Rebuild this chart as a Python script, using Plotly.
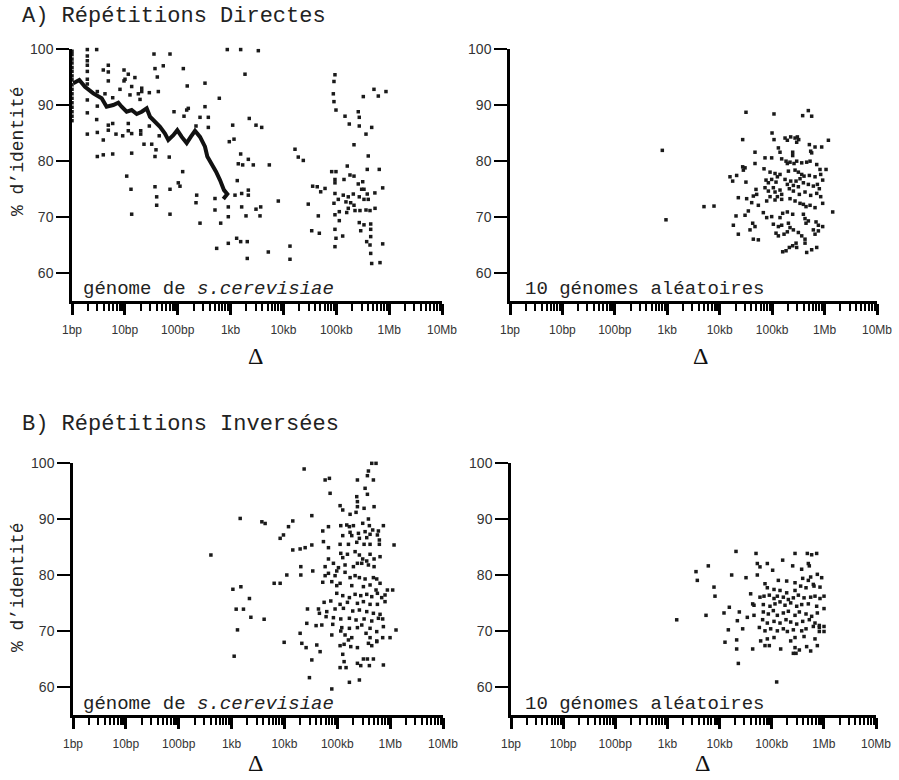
import plotly.graph_objects as go

# ---------------- data (x = log10 of Δ in bp, y = % identity) ----------------
tick_vals = [1, 10, 100, 1e3, 1e4, 1e5, 1e6, 1e7]
tick_text = ["1bp", "10bp", "100bp", "1kb", "10kb", "100kb", "1Mb", "10Mb"]
y_ticks = [60, 70, 80, 90, 100]

# A) direct repeats, S. cerevisiae genome
a_gen_logd = [
    0, 0, 0, 0, 0, 0, 0, 0, 0, 0, 0, 0, 0, 0, 0, 0, 0,
    0.29, 0.467, 0.29, 0.29, 0.29, 0.687, 0.592, 0.687, 0.984, 1.065, 1.003, 0.984, 1.19,
    0.29, 0.29, 0.29, 0.687, 0.479, 0.624, 0.908, 1.129, 1.319, 1.319, 1.255, 1.463, 1.633,
    1.287, 1.097, 0.29, 0.77, 0.479, 0.29, 0.467, 0.687, 0.77, 1.065, 0.687, 0.29, 0.479, 0.592,
    0.832, 0.959, 1.065, 1.129, 1.3, 1.3, 1.463, 1.65, 1.362, 1.508, 0.479, 0.592, 0.77, 1.129,
    1.589, 1.57, 1.84, 1.93, 2.119, 2.2, 2.17, 2.106, 2.18, 1.551, 1.854, 1.57, 1.727, 1.614,
    2.516, 2.516, 2.422, 2.579, 2.579, 2.346, 2.787, 1.035, 1.116, 1.129, 1.57, 1.602, 1.602,
    1.854, 1.854, 2.011, 2.043, 2.094, 2.359, 2.346, 2.422, 2.705, 2.705, 2.737, 2.813,
    2.938, 3.191, 3.525, 3.273, 3.354, 3.04, 3.481, 3.589, 3.065, 2.976, 3.191,
    3.336, 3.43, 3.733, 3.146, 3.229, 3.127, 3.336, 3.336, 3.21, 3.084, 2.957, 3.21,
    3.481, 3.57, 3.292, 3.557, 2.957, 3.903, 4.219, 4.281, 4.376, 4.47, 4.66, 4.535, 4.679,
    4.553, 4.64, 4.705, 4.787, 3.115, 3.191, 3.316, 2.957, 3.714, 3.316, 4.124, 4.124,
    4.913, 4.994, 4.975, 4.956, 4.944, 4.956, 4.994,
    5.165, 5.246, 5.435, 5.416, 5.435, 5.562, 5.67, 5.511, 5.713, 5.795, 5.94,
    5.335, 5.605, 5.208, 5.586, 5.813, 4.975, 5.146, 5.259, 5.335, 4.975,
    5.416, 5.5, 5.48, 5.524, 5.586, 5.73, 5.878,
    4.975, 5.132, 5.227, 5.322, 5.435, 5.524, 5.605, 5.183, 5.272, 5.335,
    4.956, 5.038, 5.057, 5.197, 5.227, 5.354, 5.448, 5.562, 5.638, 5.733,
    4.975, 5.057, 5.878, 5.435, 5.524, 5.651, 5.651, 5.651, 5.575, 5.638, 5.651, 5.462,
    5.67, 5.827, 4.975, 4.994, 5.121, 4.975,
]
a_gen_pid = [
    99.6, 99, 98.2, 97.5, 96.7, 96, 95.2, 94.5, 93.6, 92.8, 92, 91.2, 90.4, 89.6, 88.8, 88, 87.2,
    99.9, 99.9, 98.75, 97.9, 97.1, 97.1, 96.25, 95.9, 96.25, 95.5, 94.6, 94.3, 94.9,
    94.6, 93.75, 96.0, 94.3, 92.4, 92.0, 92.8, 93.3, 93.0, 92.4, 92.0, 92.2, 92.4,
    91.0, 91.8, 90.9, 91.3, 89.8, 88.6, 87.4, 86.4, 86.7, 86.7, 85.5, 84.8, 85.1, 83.75,
    84.8, 84.5, 85.4, 84.9, 85.4, 84.8, 86.25, 84.5, 83.0, 83.0, 80.8, 81.1, 81.25, 81.4,
    82.0, 80.8, 80.7, 88.8, 88.0, 89.4, 89.1, 96.5, 93.4, 99.1, 99.1, 96.5, 97.0, 95.0,
    93.9, 89.7, 87.8, 87.8, 86.0, 86.25, 91.2, 77.3, 74.95, 70.5, 75.4, 73.6, 72.1,
    74.95, 70.5, 76.1, 75.5, 78.1, 73.9, 72.55, 68.9, 73.3, 71.25, 64.4, 68.9,
    99.9, 99.9, 99.7, 95.5, 87.6, 86.4, 86.4, 86.0, 83.9, 83.45, 81.25,
    80.3, 79.3, 79.3, 79.5, 79.3, 76.5, 74.8, 73.9, 74.2, 73.9, 71.8, 71.8,
    71.4, 71.8, 70.2, 70.2, 70.05, 72.85, 82.1, 80.7, 80.1, 72.3, 70.2, 67.55, 67.1,
    75.5, 75.4, 74.5, 75.1, 66.2, 65.6, 65.6, 65.3, 63.75, 62.6, 64.8, 62.45,
    78.1, 78.1, 95.4, 94.2, 92.0, 90.6, 89.1,
    88.0, 86.6, 87.8, 88.8, 86.25, 84.8, 86.0, 91.5, 92.8, 91.6, 92.4,
    82.9, 80.9, 79.1, 78.5, 78.5, 76.7, 76.7, 77.5, 77.3, 76.1,
    75.9, 76.3, 74.95, 74.95, 74.1, 74.3, 75.2,
    74.2, 73.9, 73.6, 74.1, 73.6, 73.15, 73.15, 72.7, 72.55, 72.1,
    72.45, 73.15, 70.95, 70.8, 71.55, 71.15, 71.15, 71.25, 71.15, 71.55,
    70.4, 69.35, 65.2, 69.0, 68.6, 68.75, 67.8, 66.5, 65.6, 65.0, 63.5, 67.55,
    61.7, 61.85, 67.8, 66.2, 66.6, 64.7,
]
# running average curve (panel A, genome)
a_curve_logd = [0.025, 0.138, 0.246, 0.403, 0.561, 0.655, 0.781, 0.876, 0.939, 1.034,
                1.129, 1.224, 1.319, 1.413, 1.476, 1.57, 1.665, 1.759, 1.822, 1.917,
                1.992, 2.076, 2.17, 2.246, 2.327, 2.422, 2.516, 2.56, 2.643, 2.725,
                2.8, 2.876, 2.938, 2.863]
a_curve_pid = [93.9, 94.46, 93.27, 92.08, 91.2, 89.7, 90.0, 90.4, 89.7, 88.8,
               89.1, 88.4, 88.8, 89.4, 87.9, 87.0, 86.1, 84.9, 83.75, 84.6,
               85.5, 84.3, 83.2, 84.3, 85.4, 84.3, 82.55, 80.8, 79.6, 78.1,
               76.6, 74.8, 74.1, 73.2]

# A) direct repeats, 10 random genomes
a_rnd_logd = [
    2.905, 2.975, 3.7, 3.891, 6.155,
    4.501, 5.035, 5.582, 5.69, 5.754,
    4.438, 4.998,
    5.036, 5.246, 5.29, 5.354, 5.437, 5.481, 5.507, 5.468,
    5.71, 5.818, 5.945, 6.073, 5.735, 5.754,
    4.673, 5.119, 5.15, 5.392, 5.392,
    4.438, 4.673, 4.864, 4.991, 4.845,
    5.182, 5.265, 5.29, 5.341, 5.417, 5.468, 5.564, 5.659, 5.723, 5.85, 6.028, 5.913,
    4.483, 4.451, 4.196, 4.247, 4.323, 4.5,
    4.96, 5.055, 5.1, 5.15, 4.883, 4.928, 4.991, 5.074,
    5.31, 5.437, 5.5, 5.564, 5.608, 5.71, 5.818, 5.926, 5.964,
    5.246, 5.354, 5.456, 5.532, 5.29, 5.405, 5.5, 5.596, 5.691, 5.786, 5.863, 5.9,
    4.692, 4.705, 4.641, 4.864, 4.928, 5.023, 5.055, 5.15, 5.182, 5.1, 4.96,
    5.328, 5.405, 5.519, 5.627, 5.735, 5.85, 5.926, 5.341, 5.437, 5.532,
    4.355, 4.514, 4.61, 4.737, 4.896, 5.055, 5.182,
    5.596, 5.646, 5.723, 5.818, 5.964,
    4.546, 4.483, 4.311, 4.832, 4.896, 4.991, 5.15, 5.201, 5.29, 5.392,
    5.596, 5.627, 5.646, 5.691, 5.837, 5.882, 5.964,
    4.26, 4.629, 4.673, 5.023, 5.119, 5.182, 5.31, 5.341, 5.405,
    4.355, 4.578, 5.074, 5.119, 5.227, 5.29,
    5.5, 5.564, 5.627, 5.627, 5.818, 5.786, 5.882,
    4.641, 4.737, 5.456, 5.392, 5.328, 5.265, 5.201, 5.468,
    5.659, 5.754, 5.85,
]
a_rnd_pid = [
    81.9, 69.5, 71.85, 71.95, 70.9,
    88.7, 88.4, 88.1, 89.0, 88.0,
    83.82, 85.0,
    83.82, 84.1, 83.7, 84.3, 84.1, 84.3, 83.82, 83.35,
    82.93, 82.5, 82.5, 83.7, 81.75, 81.45,
    81.57, 82.34, 81.57, 81.57, 80.97,
    78.96, 79.55, 80.56, 80.56, 78.6,
    80.38, 79.97, 79.55, 79.79, 79.55, 79.97, 79.67, 79.79, 79.97, 79.37, 78.49, 78.49,
    78.78, 78.37, 77.18, 76.41, 77.42, 76.23,
    78.01, 77.77, 77.18, 77.6, 76.59, 76.11, 76.71, 76.23,
    78.19, 78.37, 78.01, 77.6, 77.3, 77.42, 77.18, 77.6, 76.59,
    76.71, 76.41, 76.41, 76.83, 75.82, 75.64, 75.4, 76.11, 75.82, 75.52, 75.82, 75.05,
    74.93, 74.04, 73.74, 75.23, 74.63, 75.23, 74.46, 74.81, 74.04, 73.63, 73.63,
    75.05, 74.63, 74.04, 74.46, 73.86, 74.22, 73.63, 73.27, 72.86, 72.44,
    73.45, 73.27, 72.56, 72.09, 72.86, 73.04, 73.15,
    72.26, 71.85, 72.09, 71.67, 72.44,
    71.08, 70.31, 70.19, 70.78, 69.89, 70.07, 69.89, 70.66, 70.9, 70.49,
    70.49, 69.72, 68.89, 69.3, 69.12, 68.53, 68.29,
    68.53, 68.89, 68.29, 68.71, 68.29, 68.53, 68.89, 68.11, 67.7,
    66.93, 67.7, 67.11, 66.63, 66.93, 67.35,
    67.23, 66.63, 66.04, 65.33, 66.93, 67.7, 67.52,
    66.04, 65.92, 65.33, 64.86, 64.56, 63.97, 63.79, 64.56,
    63.67, 64.15, 64.56,
]

# B) inverted repeats, S. cerevisiae genome
b_gen_logd = [
    2.609, 3.025, 3.176, 3.163, 3.087, 3.225, 3.112, 3.049, 3.338, 3.365, 3.616, 3.573, 3.635,
    4.373, 4.77, 4.851,
    5.381, 5.57, 5.683, 5.589, 5.652, 5.733,
    4.864, 5.368, 5.381, 5.381, 5.526, 5.57, 5.696,
    5.053, 5.103, 5.242, 5.355, 5.507, 4.518, 5.589,
    4.158, 4.077, 3.982, 3.919,
    4.725, 4.833, 5.066, 5.179, 5.229, 5.305, 5.481, 5.607, 5.67, 5.778, 5.872,
    5.242, 5.274, 5.4, 5.526, 5.62, 5.759, 5.796, 5.418, 5.557, 5.103,
    4.738, 4.833, 5.053, 5.211, 5.368, 5.507, 5.62, 5.796, 6.074,
    4.158, 4.297, 4.392, 4.518,
    5.066, 5.103, 5.192, 5.337, 5.418, 5.481, 5.557, 5.62, 5.696, 5.809,
    4.833, 4.77, 4.927, 5.022, 5.147, 5.305, 5.381, 5.463, 5.589, 5.696,
    4.31, 4.536, 4.045, 4.31,
    4.77, 4.833, 4.958, 4.99, 5.147, 5.242, 5.337, 5.418, 5.526, 5.683, 5.746, 5.809,
    3.806, 3.919,
    4.725, 4.896, 4.99, 5.053, 5.274, 5.494, 5.62, 5.733, 5.948, 6.048, 5.903,
    4.99, 5.103, 5.229, 5.337, 5.444, 5.557, 5.652, 5.759, 5.84,
    4.751, 4.877, 5.053, 5.192, 5.381, 5.494, 5.62, 5.759, 5.903,
    4.436, 4.644, 4.801, 4.958, 5.116, 5.292, 5.418, 5.557, 5.683, 5.809, 5.859,
    4.662, 4.788, 4.927, 5.066, 5.229, 5.355, 5.507, 5.652, 5.778,
    4.423, 4.599, 4.707, 4.914, 5.085, 5.229, 5.381, 5.463, 5.62, 5.746, 5.872, 6.111,
    4.297, 4.896, 5.066, 5.147, 5.274, 5.544, 5.62, 5.746, 5.859, 5.998,
    3.995, 4.329, 4.41, 4.612, 4.675, 5.053, 5.129, 5.211, 5.255, 5.381, 5.589, 5.652, 5.746,
    4.518, 5.103, 5.129, 5.053, 5.166, 5.381, 5.444, 5.494, 5.57, 5.683, 5.607, 5.872,
    4.473, 5.229, 5.418, 4.896,
]
b_gen_pid = [
    83.57, 77.45, 77.9, 90.1, 73.9, 73.9, 70.2, 65.5, 75.8, 72.45, 72.1, 89.5, 89.2,
    98.93, 96.97, 97.26,
    96.97, 97.74, 96.97, 98.57, 99.94, 99.94,
    94.59, 93.99, 93.1, 92.2, 95.48, 94.41, 92.2,
    92.38, 91.61, 90.84, 91.19, 91.91, 90.6, 90.0,
    89.65, 88.63, 87.15, 86.55,
    87.86, 88.63, 88.81, 88.93, 88.63, 88.81, 89.23, 88.81, 88.04, 87.86, 88.81,
    87.62, 87.03, 87.44, 87.74, 87.27, 87.15, 86.25, 86.55, 86.67, 87.03,
    85.96, 84.88, 85.48, 85.48, 85.84, 85.48, 85.48, 85.48, 85.36,
    84.47, 84.65, 84.88, 85.36,
    83.87, 83.1, 83.7, 84.17, 83.57, 82.86, 82.5, 83.7, 82.86, 83.27,
    82.86, 81.49, 82.09, 81.31, 81.79, 81.49, 82.09, 82.09, 81.79, 81.49,
    81.49, 80.72, 80.0, 80.0,
    79.88, 80.3, 79.88, 80.72, 80.48, 79.53, 79.88, 79.53, 79.29, 79.53, 79.29, 78.52,
    78.52, 78.52,
    78.7, 78.81, 78.1, 78.52, 78.1, 77.92, 78.22, 77.32, 77.32, 77.32, 76.43,
    76.73, 76.31, 75.96, 76.55, 76.31, 76.55, 76.13, 76.73, 75.96,
    75.12, 75.36, 74.76, 75.12, 74.94, 75.24, 74.76, 74.76, 75.24,
    73.93, 73.93, 73.46, 73.93, 74.05, 73.57, 73.75, 73.46, 73.16, 72.98, 72.15,
    73.16, 72.56, 72.38, 72.15, 72.27, 71.97, 72.15, 71.79, 72.27,
    71.37, 70.96, 71.07, 71.19, 70.6, 70.48, 70.6, 71.07, 70.48, 69.89, 70.78, 70.18,
    69.59, 69.29, 70.0, 69.29, 68.81, 69.59, 68.81, 68.22, 68.81, 68.81,
    67.98, 67.8, 67.03, 67.5, 66.31, 67.38, 67.62, 68.4, 67.21, 67.03, 67.8, 67.38, 68.1,
    64.83, 65.84, 64.53, 63.46, 63.46, 64.23, 63.82, 65.0, 65.0, 65.0, 63.82, 63.93,
    61.67, 60.84, 61.25, 59.65,
]

# B) inverted repeats, 10 random genomes
b_rnd_logd = [
    3.178,
    4.315, 4.699, 5.447, 5.683, 5.766, 5.862, 5.21,
    4.724, 4.775, 4.916, 5.018, 3.784, 3.548, 3.573,
    4.232, 4.507, 4.724,
    5.402, 5.574, 5.702, 5.721, 5.875, 5.958,
    5.127, 5.287, 5.447, 5.594, 5.702, 5.811, 5.747,
    3.893, 3.912, 4.596, 4.871, 4.916, 5.044, 5.159, 5.287,
    5.447, 5.555, 5.658, 5.798, 5.926, 6.003,
    4.775, 4.852, 4.954, 5.044, 5.108, 5.223, 5.319, 5.415, 5.511, 5.62, 5.747, 5.83, 5.926,
    4.635, 4.66, 4.839, 4.967, 5.063, 5.159, 5.255, 5.364, 5.479, 5.575, 5.702, 5.862, 6.003,
    4.187, 4.085, 3.74, 4.379, 4.532, 4.66,
    4.839, 4.935, 5.031, 5.108, 5.223, 5.319, 5.447, 5.53, 5.658, 5.766, 5.875,
    4.341, 4.443, 4.168, 4.826, 4.916, 5.044, 5.159, 5.274, 5.364, 5.479, 5.594, 5.721, 5.83, 5.913, 6.003, 5.913,
    4.763, 4.871, 4.98, 5.108, 5.223, 5.3, 5.415, 5.575, 5.658, 5.798, 6.003, 5.913,
    4.104, 4.328, 4.788, 4.916, 5.044, 5.364, 5.447, 5.62, 5.83, 5.875,
    4.328, 4.635, 4.871, 4.954, 5.172, 5.447, 5.53, 5.67, 5.747, 5.415, 5.466,
    4.36, 5.095,
]
b_rnd_pid = [
    72.0,
    84.21, 83.85, 83.85, 83.85, 83.61, 83.85, 82.65,
    82.05, 81.45, 82.05, 80.85, 81.63, 80.6, 79.04,
    80.0, 79.52, 80.0,
    81.63, 81.03, 82.05, 81.63, 80.12, 79.52,
    79.04, 78.92, 78.62, 79.4, 79.04, 78.02, 79.64,
    77.84, 76.22, 76.64, 78.44, 77.72, 77.42, 77.24, 76.82,
    77.24, 78.02, 77.72, 78.32, 77.84, 76.22,
    76.04, 76.22, 76.4, 75.8, 76.22, 76.04, 75.62, 75.92, 76.4, 75.92, 76.04, 76.22, 75.8,
    74.84, 74.6, 74.72, 74.42, 74.84, 75.2, 74.6, 75.02, 74.42, 74.72, 74.84, 74.42, 74.0,
    74.24, 73.22, 72.8, 73.4, 72.44, 72.8,
    73.4, 73.04, 73.64, 72.8, 73.22, 73.52, 72.8, 73.4, 73.04, 72.62, 73.22,
    71.84, 70.39, 70.21, 72.02, 71.42, 71.72, 71.42, 72.02, 71.6, 71.24, 71.72, 72.02, 71.42, 70.99, 69.91, 69.91,
    70.63, 70.03, 70.39, 70.03, 70.39, 69.91, 70.21, 70.03, 70.39, 70.81, 70.81, 70.63,
    68.0, 68.41, 68.23, 68.59, 68.83, 68.23, 68.83, 69.01, 68.59, 67.39,
    66.79, 66.79, 67.39, 67.39, 66.79, 67.03, 66.61, 67.21, 66.43, 66.01, 66.01,
    64.21, 60.9,
]

# ---------------- figure ----------------
W, H = 899, 780
def px(x):
    return x / W
def py(y):
    return 1 - y / H

fig = go.Figure()
marker = dict(symbol="square", size=3.5, color="#1a1a1a", line=dict(width=0))

panels = [
    (a_gen_logd, a_gen_pid, "x", "y"),
    (a_rnd_logd, a_rnd_pid, "x2", "y2"),
    (b_gen_logd, b_gen_pid, "x3", "y3"),
    (b_rnd_logd, b_rnd_pid, "x4", "y4"),
]
for lx, yy, xa, ya in panels:
    fig.add_trace(go.Scatter(
        x=[10 ** v for v in lx], y=yy, mode="markers", marker=marker,
        xaxis=xa, yaxis=ya, cliponaxis=False, showlegend=False, hoverinfo="x+y"))

fig.add_trace(go.Scatter(
    x=[10 ** v for v in a_curve_logd], y=a_curve_pid, mode="lines",
    line=dict(color="#111111", width=4), xaxis="x", yaxis="y",
    showlegend=False))

minor_vals = [k * 10 ** d for d in range(7) for k in range(2, 10)]

def xaxis_def(dom, anchor):
    return dict(
        domain=dom, anchor=anchor, type="log", range=[0, 7],
        showline=True, linecolor="black", linewidth=3,
        tickmode="array", tickvals=tick_vals, ticktext=tick_text, tickangle=0,
        ticks="outside", ticklen=11, tickwidth=2.5, tickcolor="black",
        ticklabelstandoff=5,
        tickfont=dict(family="Liberation Sans, Arial", size=12, color="#333333"),
        minor=dict(tickmode="array", tickvals=minor_vals, ticks="outside", ticklen=7,
                   tickwidth=2, tickcolor="black", showgrid=False),
        showgrid=False, zeroline=False)

def yaxis_def(dom, anchor):
    return dict(
        domain=dom, anchor=anchor, range=[55, 100],
        showline=True, linecolor="black", linewidth=2.5,
        ticks="outside", ticklen=13, tickwidth=2, tickcolor="black",
        tickmode="array", tickvals=y_ticks,
        tickfont=dict(family="Liberation Sans, Arial", size=14, color="#333333"),
        showgrid=False, zeroline=False)

top = [py(301), py(49)]
bot = [py(715), py(463)]
fig.update_layout(
    width=W, height=H, autosize=False,
    margin=dict(l=0, r=0, t=0, b=0, autoexpand=False),
    paper_bgcolor="white", plot_bgcolor="white",
    xaxis=xaxis_def([px(72), px(442)], "y"),
    yaxis=yaxis_def(top, "x"),
    xaxis2=xaxis_def([px(510), px(877)], "y2"),
    yaxis2=yaxis_def(top, "x2"),
    xaxis3=xaxis_def([px(73), px(443)], "y3"),
    yaxis3=yaxis_def(bot, "x3"),
    xaxis4=xaxis_def([px(511), px(876)], "y4"),
    yaxis4=yaxis_def(bot, "x4"),
)

mono = "Liberation Mono, Courier New, monospace"
ann = []
ann.append(dict(text="A) Répétitions Directes", x=px(20), y=py(16), xanchor="left",
                yanchor="middle", font=dict(family=mono, size=22, color="#222")))
ann.append(dict(text="B) Répétitions Inversées", x=px(20), y=py(425), xanchor="left",
                yanchor="middle", font=dict(family=mono, size=22, color="#222")))
for yc in (151, 587):
    ann.append(dict(text="% d’identité", x=px(18), y=py(yc), textangle=-90,
                    xanchor="center", yanchor="middle",
                    font=dict(family=mono, size=18, color="#222")))
for yc in (289, 704):
    ann.append(dict(text="génome de <i>s.cerevisiae</i>", x=px(81), y=py(yc),
                    xanchor="left", yanchor="middle",
                    font=dict(family=mono, size=19, color="#222")))
    ann.append(dict(text="10 génomes aléatoires", x=px(523), y=py(yc),
                    xanchor="left", yanchor="middle",
                    font=dict(family=mono, size=19, color="#222")))
for xc, yc in ((255, 356), (700, 356), (255, 763), (702, 763)):
    ann.append(dict(text="Δ", x=px(xc), y=py(yc), xanchor="center", yanchor="middle",
                    font=dict(family="Liberation Serif, DejaVu Serif, serif", size=24,
                              color="#111")))
for a in ann:
    a.update(xref="paper", yref="paper", showarrow=False)
fig.update_layout(annotations=ann)

fig.write_html(
    "out.html",
    config={"displayModeBar": False},
    post_script="document.body.style.margin='0';document.body.style.overflow='hidden';",
)
